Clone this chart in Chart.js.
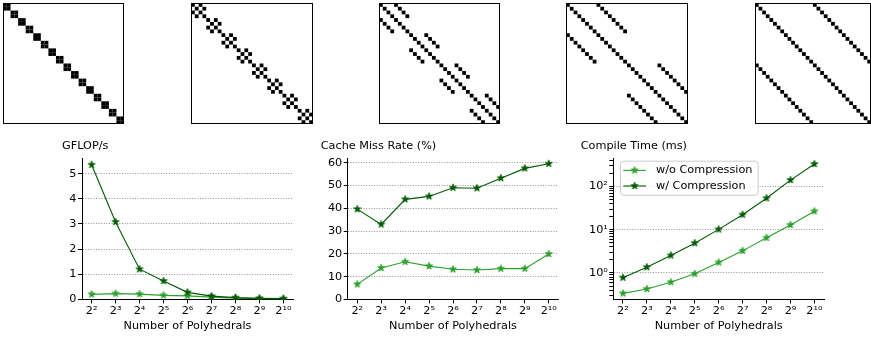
<!DOCTYPE html>
<html>
<head>
<meta charset="utf-8">
<script src="https://cdn.jsdelivr.net/npm/chart.js@4.4.0/dist/chart.umd.min.js"></script>
<style>
  html, body { margin: 0; padding: 0; background: #fff; width: 871px; height: 340px; overflow: hidden; position: relative; }
  canvas { position: absolute; }
</style>
</head>
<body>
<canvas id="m0" width="121" height="121" style="left:3px;top:3px"></canvas>
<canvas id="m1" width="122" height="121" style="left:191px;top:3px"></canvas>
<canvas id="m2" width="121" height="121" style="left:379px;top:3px"></canvas>
<canvas id="m3" width="122" height="121" style="left:566px;top:3px"></canvas>
<canvas id="m4" width="116" height="121" style="left:755px;top:3px"></canvas>
<canvas id="gflops" width="300" height="205" style="left:0px;top:135px"></canvas>
<canvas id="miss" width="270" height="205" style="left:300px;top:135px"></canvas>
<canvas id="compile" width="301" height="205" style="left:570px;top:135px"></canvas>
<script>
// sparsity patterns: 32x32, block-diagonal, nonzero where i ≡ j (mod stride)
const matrixSize = 32;
const blockSizes = [2, 4, 8, 16, 32];
const strides = [1, 2, 4, 8, 16];

// x axis: number of polyhedrals (powers of two)
const exponents = [2, 3, 4, 5, 6, 7, 8, 9, 10];
const xTickLabels = ['2²', '2³', '2⁴', '2⁵', '2⁶', '2⁷', '2⁸', '2⁹', '2¹⁰'];
const seriesLabels = ['w/o Compression', 'w/ Compression'];

const gflopsWo = [0.20, 0.23, 0.21, 0.16, 0.14, 0.09, 0.05, 0.03, 0.02];
const gflopsW = [5.35, 3.08, 1.20, 0.73, 0.28, 0.13, 0.07, 0.04, 0.03];
const gflopsTicks = [0, 1, 2, 3, 4, 5];

const missWo = [6.6, 13.8, 16.5, 14.6, 13.2, 12.9, 13.5, 13.5, 19.9];
const missW = [39.6, 32.9, 43.9, 45.2, 49.0, 48.8, 53.2, 57.5, 59.5];
const missTicks = [0, 10, 20, 30, 40, 50, 60];

const compileWo = [0.337, 0.425, 0.61, 0.96, 1.75, 3.25, 6.5, 12.9, 26.8];
const compileW = [0.78, 1.36, 2.54, 4.9, 10.2, 22.3, 53.7, 141, 331];
const compileTicks = [1, 10, 100];
const compileTickLabels = ['10⁰', '10¹', '10²'];

const FONT = { family: 'DejaVu Sans', size: 11.25, weight: 'normal' };
const LIGHT = '#2ca02c';
const DARK = '#005a00';

function starCanvas(color) {
  const r = 3.7, s = 10;
  const c = document.createElement('canvas');
  c.width = s; c.height = s;
  const g = c.getContext('2d');
  g.beginPath();
  for (let k = 0; k < 10; k++) {
    const rad = k % 2 ? r * 0.382 : r;
    const ang = -Math.PI / 2 + k * Math.PI / 5;
    const px = s / 2 + rad * Math.cos(ang), py = s / 2 + rad * Math.sin(ang);
    if (k) g.lineTo(px, py); else g.moveTo(px, py);
  }
  g.closePath();
  g.fillStyle = color;
  g.fill();
  g.lineWidth = 0.9;
  g.strokeStyle = color;
  g.stroke();
  return c;
}
const starLight = starCanvas(LIGHT);
const starDark = starCanvas(DARK);

// ---- sparsity matrices ----
const framePlugin = {
  id: 'frame',
  afterDraw(chart) {
    const a = chart.chartArea, ctx = chart.ctx;
    ctx.save();
    ctx.lineWidth = 1;
    ctx.strokeStyle = '#000';
    ctx.strokeRect(a.left + 0.5, a.top + 0.5, a.right - a.left - 1, a.bottom - a.top - 1);
    ctx.restore();
  }
};

function matrixCells(block, stride) {
  const cells = [];
  for (let i = 0; i < matrixSize; i++) {
    for (let j = 0; j < matrixSize; j++) {
      if (Math.floor(i / block) === Math.floor(j / block) && (i - j) % stride === 0) {
        cells.push({ x: j, y: i });
      }
    }
  }
  return cells;
}

blockSizes.forEach((block, k) => {
  new Chart(document.getElementById('m' + k), {
    type: 'scatter',
    data: {
      datasets: [{
        data: matrixCells(block, strides[k]),
        pointStyle: 'rect',
        pointRadius: (ctx) => {
          const y = ctx.chart.scales.y;
          return Math.abs(y.getPixelForValue(1) - y.getPixelForValue(0)) / Math.SQRT2;
        },
        pointBackgroundColor: '#000',
        pointBorderWidth: 0
      }]
    },
    options: {
      responsive: false,
      animation: false,
      events: [],
      layout: { padding: 0, autoPadding: false },
      plugins: { legend: { display: false }, tooltip: { enabled: false } },
      scales: {
        x: { type: 'linear', min: -0.5, max: matrixSize - 0.5, display: false },
        y: { type: 'linear', min: -0.5, max: matrixSize - 0.5, reverse: true, display: false }
      }
    },
    plugins: [framePlugin]
  });
});

// ---- line charts ----
const legendPlugin = {
  id: 'starLegend',
  afterDraw(chart) {
    const ctx = chart.ctx, a = chart.chartArea;
    const x0 = a.left + 6.7, y0 = a.top + 2.7, w = 137.7, h = 34;
    ctx.save();
    ctx.beginPath();
    ctx.roundRect(x0 + 0.5, y0 + 0.5, w, h, 3);
    ctx.fillStyle = 'rgba(255,255,255,0.8)';
    ctx.fill();
    ctx.strokeStyle = '#cccccc';
    ctx.lineWidth = 1;
    ctx.stroke();
    chart.data.datasets.forEach((ds, i) => {
      const cy = y0 + 9.7 + i * 15.6;
      ctx.beginPath();
      ctx.moveTo(x0 + 3.3, cy);
      ctx.lineTo(x0 + 26, cy);
      ctx.strokeStyle = ds.borderColor;
      ctx.lineWidth = ds.borderWidth;
      ctx.stroke();
      const img = ds.pointStyle;
      ctx.drawImage(img, x0 + 14.6 - img.width / 2, cy - img.height / 2);
      ctx.fillStyle = '#000';
      ctx.font = FONT.size + 'px "' + FONT.family + '"';
      ctx.textBaseline = 'middle';
      ctx.textAlign = 'left';
      ctx.fillText(ds.label, x0 + 36, cy);
    });
    ctx.restore();
  }
};

function lineChart(id, f, title, wo, w, yOpts, legend) {
  const yScale = Object.assign({
    afterFit: (s) => { s.width = f.areaLeft - f.titleX; },
    grid: {
      color: (ctx) => (yOpts.gridAt.includes(ctx.tick && ctx.tick.value) ? '#777' : 'rgba(0,0,0,0)'),
      lineWidth: 0.8,
      tickColor: '#000',
      tickWidth: 1,
      tickLength: 4,
      tickBorderDash: []
    },
    border: { display: true, color: '#000', width: 1, dash: [1, 1.6] },
    ticks: {
      font: FONT, color: '#000', padding: 1.5, autoSkip: false,
      callback: yOpts.label
    }
  }, yOpts.scale);

  new Chart(document.getElementById(id), {
    type: 'line',
    data: {
      datasets: [
        { label: seriesLabels[0], data: exponents.map((e, i) => ({ x: e, y: wo[i] })),
          borderColor: LIGHT, backgroundColor: LIGHT, borderWidth: 1.1, pointStyle: starLight, pointRadius: 3, order: 1 },
        { label: seriesLabels[1], data: exponents.map((e, i) => ({ x: e, y: w[i] })),
          borderColor: DARK, backgroundColor: DARK, borderWidth: 1.1, pointStyle: starDark, pointRadius: 3, order: 0 }
      ]
    },
    options: {
      responsive: false,
      animation: false,
      events: [],
      layout: { padding: { left: f.titleX, right: f.width - f.areaRight, top: 0, bottom: 0 }, autoPadding: false },
      plugins: {
        legend: { display: false },
        tooltip: { enabled: false },
        title: { display: true, text: title, align: 'start', color: '#000', font: FONT, padding: { top: 4, bottom: 5.5 } }
      },
      scales: {
        x: {
          type: 'linear', min: 1.6, max: 10.4,
          afterFit: (s) => { s.height = 40.6; },
          afterBuildTicks: (s) => { s.ticks = exponents.map(v => ({ value: v })); },
          grid: { display: true, drawOnChartArea: false, drawTicks: true, tickLength: 4, tickColor: '#000', tickWidth: 1 },
          border: { display: true, color: '#000', width: 1 },
          ticks: {
            font: FONT, color: '#000', padding: 0.5, maxRotation: 0, autoSkip: false,
            callback: (v) => xTickLabels[exponents.indexOf(v)]
          },
          title: { display: true, text: 'Number of Polyhedrals', color: '#000', font: FONT, padding: { top: 0, bottom: 7.5 } }
        },
        y: yScale
      }
    },
    plugins: legend ? [legendPlugin] : []
  });
}

lineChart('gflops', { titleX: 62, areaLeft: 82, areaRight: 293, width: 300 }, 'GFLOP/s', gflopsWo, gflopsW, {
  scale: { type: 'linear', min: 0, max: 5.62, afterBuildTicks: (s) => { s.ticks = gflopsTicks.map(v => ({ value: v })); } },
  gridAt: gflopsTicks,
  label: (v) => String(v)
});

lineChart('miss', { titleX: 20.7, areaLeft: 47.7, areaRight: 258.3, width: 270 }, 'Cache Miss Rate (%)', missWo, missW, {
  scale: { type: 'linear', min: 0, max: 62.05, afterBuildTicks: (s) => { s.ticks = missTicks.map(v => ({ value: v })); } },
  gridAt: missTicks,
  label: (v) => String(v)
});

// log axis: majors at decades, minor ticks at 2..9 x decade
const logMinor = [];
[0.1, 1, 10, 100].forEach(d => { for (let m = 2; m <= 9; m++) { const v = +(m * d).toPrecision(3); if (v >= 0.245 && v <= 457) logMinor.push(v); } });

lineChart('compile', { titleX: 10.7, areaLeft: 43.3, areaRight: 254, width: 301 }, 'Compile Time (ms)', compileWo, compileW, {
  scale: {
    type: 'logarithmic', min: 0.245, max: 457,
    afterBuildTicks: (s) => { s.ticks = compileTicks.concat(logMinor).sort((a, b) => a - b).map(v => ({ value: v })); }
  },
  gridAt: compileTicks,
  label: (v) => { const i = compileTicks.indexOf(v); return i >= 0 ? compileTickLabels[i] : ''; }
}, true);
</script>
</body>
</html>
